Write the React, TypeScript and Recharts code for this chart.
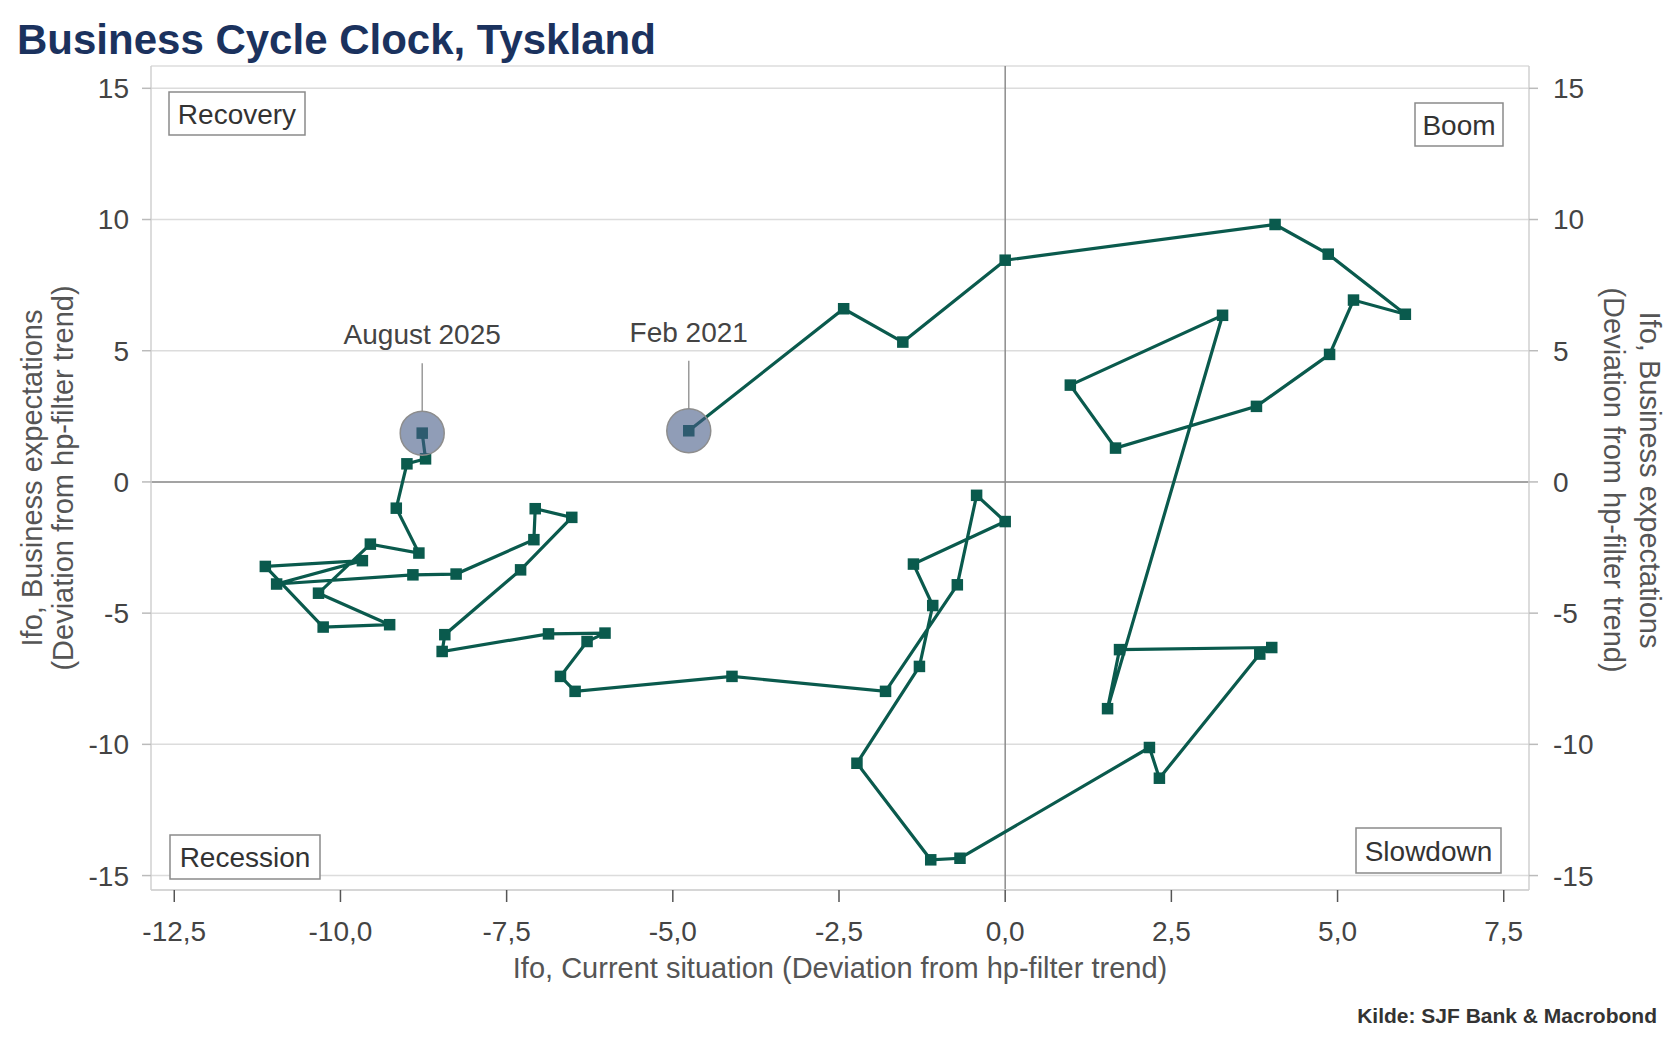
import React from 'react';
import { ScatterChart, Scatter, XAxis, YAxis, CartesianGrid, ReferenceLine } from 'recharts';

// Ifo, current situation (deviation from hp-filter trend), Feb 2021 .. Aug 2025
const currentSituation = [
  -4.76, -2.43, -1.54, 0.0, 4.06, 4.86, 6.02, 5.24, 4.88, 3.78, 1.66, 0.98, 3.27,
  1.54, 1.72, 4.01, 3.83, 2.32, 2.17, -0.68, -1.12, -2.23, -1.29, -1.09, -1.38, 0.0,
  -0.43, -0.72, -1.8, -4.11, -6.47, -6.69, -6.29, -6.02, -6.87, -8.47, -8.43, -7.29,
  -6.52, -7.07, -7.09, -8.26, -8.91, -10.96, -9.67, -11.13, -10.26, -9.26, -10.33,
  -9.55, -8.82, -9.16, -9.0, -8.72, -8.77,
];
// Ifo, business expectations (deviation from hp-filter trend)
const businessExpectations = [
  1.95, 6.6, 5.33, 8.45, 9.81, 8.68, 6.39, 6.93, 4.86, 2.88, 1.29, 3.69, 6.35,
  -8.64, -6.39, -6.31, -6.56, -11.29, -10.12, -14.34, -14.4, -10.72, -7.03, -4.71, -3.13, -1.51,
  -0.51, -3.92, -7.98, -7.41, -7.98, -7.41, -6.08, -5.76, -5.79, -6.46, -5.82, -3.35,
  -1.35, -1.02, -2.2, -3.51, -3.54, -3.89, -3.0, -3.22, -5.53, -5.44, -4.24,
  -2.37, -2.71, -1.0, 0.69, 0.88, 1.86,
];
const xTicks = [-12.5, -10, -7.5, -5, -2.5, 0, 2.5, 5, 7.5];
const yTicks = [-15, -10, -5, 0, 5, 10, 15];
const highlightLabels = ['Feb 2021', 'August 2025'];
const quadrantLabels = ['Recovery', 'Boom', 'Recession', 'Slowdown'];

const FONT = '"Liberation Sans", Arial, Helvetica, sans-serif';
const LINE = '#0a5a4d';

const points = currentSituation.map((x, i) => ({ x, y: businessExpectations[i] }));
const last = points.length - 1;
const highlights = [
  { x: currentSituation[0], y: businessExpectations[0], label: highlightLabels[0] },
  { x: currentSituation[last], y: businessExpectations[last], label: highlightLabels[1] },
];

const Square = (props: any) => {
  const { cx, cy } = props;
  if (cx == null || cy == null) return null;
  return <rect x={cx - 5.75} y={cy - 5.75} width={11.5} height={11.5} fill={LINE} />;
};

const Highlight = (props: any) => {
  const { cx, cy, payload } = props;
  if (cx == null || cy == null) return null;
  return (
    <g>
      <line x1={cx} y1={cy - 22} x2={cx} y2={cy - 70} stroke="#9a9a9a" strokeWidth={1.5} />
      <circle cx={cx} cy={cy} r={22} fill="rgba(70,92,135,0.6)" stroke="#8d8d8d" strokeWidth={1.5} />
      <text x={cx} y={cy - 89} textAnchor="middle" fontSize={28} fill="#444" fontFamily={FONT}>
        {payload.label}
      </text>
    </g>
  );
};

const fmtX = (v: number) => v.toFixed(1).replace('.', ',');

const Box = ({ x, y, w, h, text }: { x: number; y: number; w: number; h: number; text: string }) => (
  <g>
    <rect x={x} y={y} width={w} height={h} fill="#fff" stroke="#8a8a8a" strokeWidth={1.5} />
    <text x={x + w / 2} y={y + h / 2 + 10} textAnchor="middle" fontSize={28} fill="#333" fontFamily={FONT}>
      {text}
    </text>
  </g>
);

export default function App() {
  return (
    <div style={{ position: 'relative', width: 1680, height: 1052, background: '#fff', fontFamily: FONT }}>
      <style>{'html,body{margin:0;padding:0;overflow:hidden;background:#fff}'}</style>
      <ScatterChart width={1680} height={1052} margin={{ top: 66, right: 0, bottom: 0, left: 0 }}>
        <CartesianGrid horizontal vertical={false} stroke="#dcdcdc" strokeWidth={1.5} />
        <XAxis
          type="number"
          dataKey="x"
          domain={[-12.85, 7.88]}
          ticks={xTicks}
          allowDataOverflow
          tickFormatter={fmtX}
          height={162}
          tickSize={12}
          tickMargin={19}
          axisLine={{ stroke: '#d0d0d0', strokeWidth: 1.5 }}
          tickLine={{ stroke: '#555', strokeWidth: 1.5 }}
          tick={{ fontSize: 28, fill: '#444', fontFamily: FONT }}
          interval={0}
        />
        <YAxis
          type="number"
          dataKey="y"
          domain={[-15.55, 15.85]}
          ticks={yTicks}
          allowDataOverflow
          width={151}
          tickSize={9}
          tickMargin={13}
          axisLine={{ stroke: '#d0d0d0', strokeWidth: 1.5 }}
          tickLine={{ stroke: '#bbb', strokeWidth: 1.5 }}
          tick={{ fontSize: 28, fill: '#444', fontFamily: FONT }}
          interval={0}
        />
        <YAxis
          yAxisId="right"
          orientation="right"
          type="number"
          domain={[-15.55, 15.85]}
          ticks={yTicks}
          allowDataOverflow
          width={151}
          tickSize={9}
          tickMargin={15}
          axisLine={{ stroke: '#d0d0d0', strokeWidth: 1.5 }}
          tickLine={{ stroke: '#bbb', strokeWidth: 1.5 }}
          tick={{ fontSize: 28, fill: '#444', fontFamily: FONT, textAnchor: 'start' }}
          interval={0}
        />
        <ReferenceLine y={0} stroke="#8c8c8c" strokeWidth={1.5} />
        <ReferenceLine x={0} stroke="#8c8c8c" strokeWidth={1.5} />
        <Scatter
          data={points}
          line={{ stroke: LINE, strokeWidth: 3.2 }}
          lineType="joint"
          shape={Square}
          isAnimationActive={false}
        />
        <Scatter data={highlights} shape={Highlight} isAnimationActive={false} />
      </ScatterChart>
      <svg
        width={1680}
        height={1052}
        style={{ position: 'absolute', left: 0, top: 0, pointerEvents: 'none' }}
      >
        <text x={17} y={54} fontSize={42} fontWeight="bold" fill="#1b325e" fontFamily={FONT}>
          Business Cycle Clock, Tyskland
        </text>
        <Box x={169} y={92} w={136} h={43} text={quadrantLabels[0]} />
        <Box x={1415} y={103} w={88} h={43} text={quadrantLabels[1]} />
        <Box x={170} y={835} w={150} h={44} text={quadrantLabels[2]} />
        <Box x={1356} y={828} w={145} h={45} text={quadrantLabels[3]} />
        <text x={840} y={978} textAnchor="middle" fontSize={29} fill="#555" fontFamily={FONT}>
          Ifo, Current situation (Deviation from hp-filter trend)
        </text>
        <g transform="translate(32,478) rotate(-90)">
          <text x={0} y={0} textAnchor="middle" dominantBaseline="central" fontSize={29} fill="#555" fontFamily={FONT}>
            Ifo, Business expectations
          </text>
        </g>
        <g transform="translate(63,478) rotate(-90)">
          <text x={0} y={0} textAnchor="middle" dominantBaseline="central" fontSize={29} fill="#555" fontFamily={FONT}>
            (Deviation from hp-filter trend)
          </text>
        </g>
        <g transform="translate(1650,480) rotate(90)">
          <text x={0} y={0} textAnchor="middle" dominantBaseline="central" fontSize={29} fill="#555" fontFamily={FONT}>
            Ifo, Business expectations
          </text>
        </g>
        <g transform="translate(1614,480) rotate(90)">
          <text x={0} y={0} textAnchor="middle" dominantBaseline="central" fontSize={29} fill="#555" fontFamily={FONT}>
            (Deviation from hp-filter trend)
          </text>
        </g>
        <text x={1657} y={1023} textAnchor="end" fontSize={21} fontWeight="bold" fill="#333" fontFamily={FONT}>
          Kilde: SJF Bank &amp; Macrobond
        </text>
      </svg>
    </div>
  );
}
